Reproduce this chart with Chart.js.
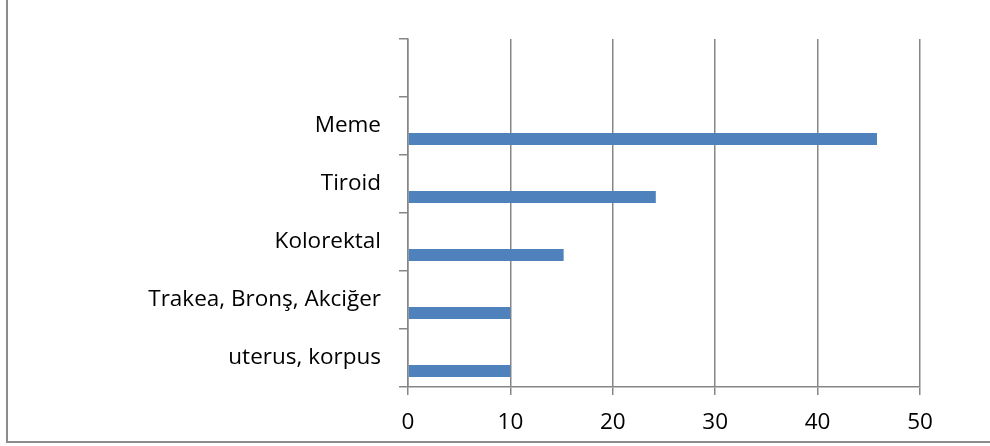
<!DOCTYPE html>
<html>
<head>
<meta charset="utf-8">
<script src="https://cdn.jsdelivr.net/npm/chart.js@4"></script>
<style>
  html, body { margin: 0; padding: 0; background: #fff; }
  #wrap { width: 990px; height: 446px; position: relative; }
</style>
</head>
<body>
<div id="wrap"><canvas id="myChart" width="990" height="446"></canvas></div>
<script>
// chart data
const categories = ['', 'Meme', 'Tiroid', 'Kolorektal', 'Trakea, Bronş, Akciğer', 'uterus, korpus'];
const values = [null, 45.8, 24.2, 15.2, 10, 10];
const emptySeries = [null, null, null, null, null, null];
const xTickLabels = [0, 10, 20, 30, 40, 50];

const GRID = '#868686';

// outer frame like the spreadsheet chart box
const framePlugin = {
    id: 'frame',
    afterDraw(chart) {
        const ctx = chart.ctx;
        ctx.save();
        ctx.strokeStyle = '#8c8c8c';
        ctx.lineWidth = 2;
        ctx.strokeRect(7, -10, 1000, 452);
        ctx.restore();
    }
};

window.onload = function () {
    Chart.defaults.font.family = '"Open Sans"';
    Chart.defaults.color = '#000';

    const data = {
        labels: categories,
        datasets: [{
            label: 'empty',
            data: emptySeries,
            backgroundColor: '#4F81BD'
        }, {
            label: 'Seri',
            data: values,
            backgroundColor: '#4F81BD',
            borderWidth: 0
        }]
    };

    const config = {
        type: 'bar',
        data: data,
        options: {
            indexAxis: 'y',
            responsive: false,
            animation: false,
            categoryPercentage: 0.9,
            barPercentage: 0.46,
            layout: { padding: { left: 8, top: 39, right: 70, bottom: 0 } },
            plugins: {
                legend: { display: false },
                tooltip: { enabled: false }
            },
            scales: {
                x: {
                    min: 0,
                    max: 50,
                    afterBuildTicks: function (s) {
                        s.ticks = xTickLabels.map(v => ({ value: v }));
                    },
                    afterFit: function (s) { s.height = 59; },
                    grid: { color: GRID, lineWidth: 1.5, tickLength: 8 },
                    border: { color: GRID, width: 1.5 },
                    ticks: { font: { size: 22.5 }, padding: 14, color: '#000' }
                },
                y: {
                    afterFit: function (s) { s.width = 400; },
                    grid: { drawOnChartArea: false, color: GRID, lineWidth: 1.5, tickLength: 9 },
                    border: { color: GRID, width: 1.5 },
                    ticks: { font: { size: 22.5 }, padding: 18, color: '#000' }
                }
            }
        },
        plugins: [framePlugin]
    };

    new Chart(document.getElementById('myChart'), config);
};
</script>
</body>
</html>
